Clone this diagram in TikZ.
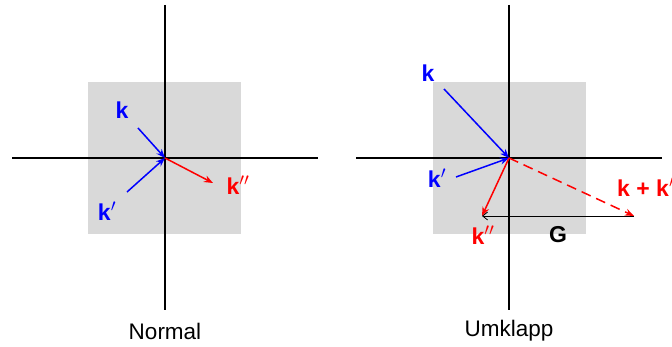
\documentclass[tikz,border=0pt]{standalone}
\usepackage{fontspec}
\setmainfont{Liberation Sans}
\usetikzlibrary{arrows.meta}
\definecolor{zone}{RGB}{217,217,217}
\tikzset{
  axis/.style={line width=1.6pt},
  wave/.style={line width=1.5pt, -{Stealth[length=9pt,width=7pt]}},
  lbl/.style={font=\fontsize{23}{26}\selectfont\bfseries, inner sep=0pt},
  caption/.style={font=\fontsize{22.5}{26}\selectfont, inner sep=0pt},
}
\begin{document}
\begin{tikzpicture}[x=1pt,y=-1pt]
    \useasboundingbox (0,0) rectangle (672,347);
    % Normal
    \coordinate (O1) at (165,158);
    \fill[zone] (88,82) rectangle (241,234);
    \draw[axis] (165,5) -- (165,310);
    \draw[axis] (12,158) -- (318,158);
    \coordinate (k1) at (138,128);
    \coordinate (kp1) at (127,192);
    \coordinate (kpp1) at (213,183);
    \draw[wave,blue] (k1) -- (O1);
    \draw[wave,blue] (kp1) -- (O1);
    \draw[wave,red] (O1) -- (kpp1);
    \node[lbl,blue] (k1lbl) at (122,110) {k};
    \node[lbl,blue] (kp1lbl) at (107,211) {k$'$};
    \node[lbl,red] (kpp1lbl) at (238,185) {k$''$};
    \node[caption] (normal) at (165,331) {Normal};
    % Umklapp
    \coordinate (O2) at (509,158);
    \fill[zone] (433,82) rectangle (586,234);
    \draw[axis] (509,5) -- (509,310);
    \draw[axis] (356,158) -- (662,158);
    \coordinate (k2) at (444,89);
    \coordinate (kp2) at (456,177);
    \coordinate (kpp2) at (482,216);
    \coordinate (ksum) at (634,216);
    \draw[wave,blue] (k2) -- (O2);
    \draw[wave,blue] (kp2) -- (O2);
    \draw[wave,red] (O2) -- (kpp2);
    \draw[wave,red,dash pattern=on 10pt off 6pt] (O2) -- (ksum);
    % G
    \draw[-{Straight Barb[length=5pt,width=8pt]},line width=0.8pt] (ksum) -- (kpp2);
    \node[lbl,blue] (k2lbl) at (428,73) {k};
    \node[lbl,blue] (kp2lbl) at (437,178) {k$'$};
    \node[lbl,red] (kpp2lbl) at (483,235) {k$''$};
    \node[lbl,red,anchor=west] (ksumlbl) at (617,187) {k + k$'$};
    \node[lbl] (glbl) at (558,235) {G};
    \node[caption] (umklapp) at (509,331) {Umklapp};
\end{tikzpicture}
\end{document}
